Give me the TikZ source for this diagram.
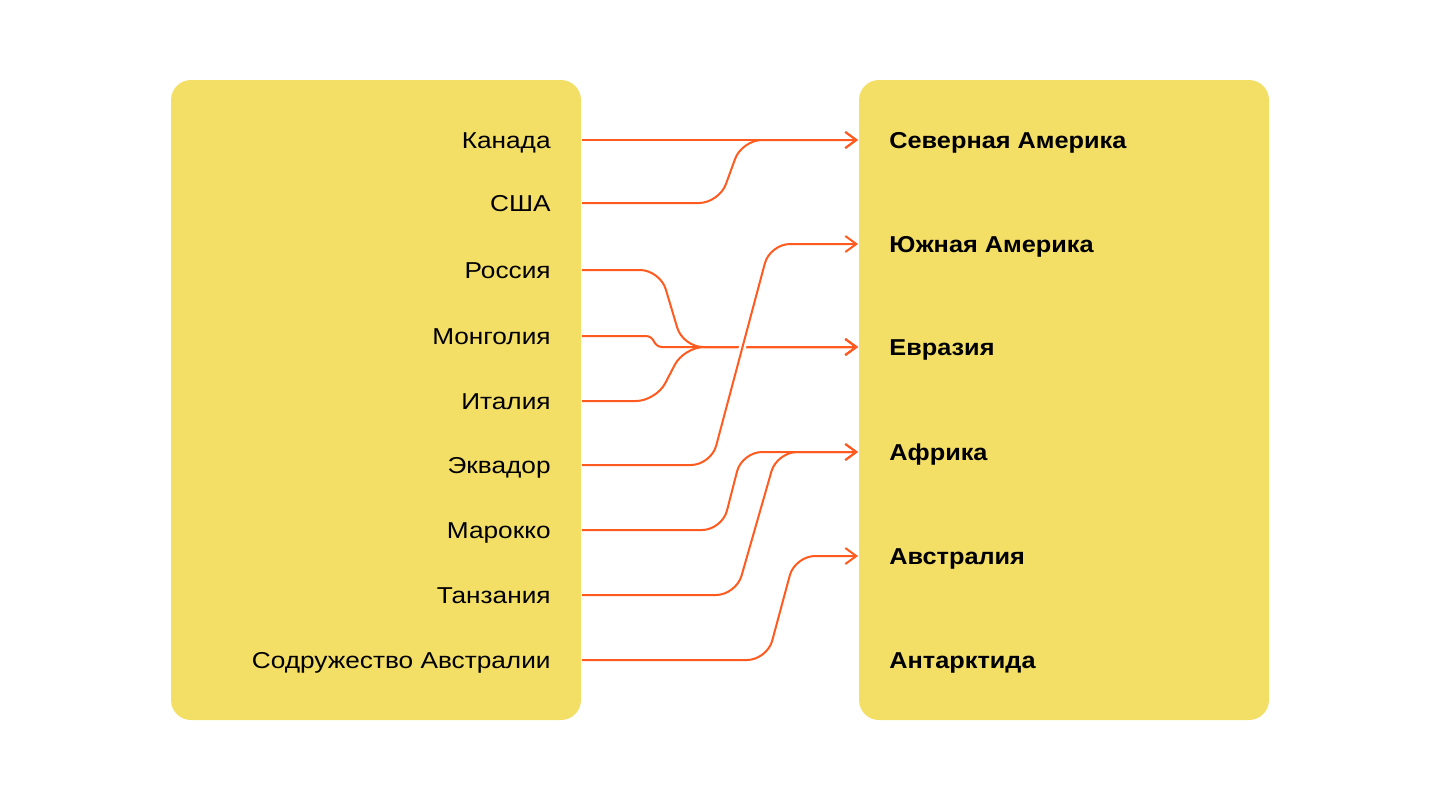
\documentclass[tikz,border=0pt]{standalone}
\usepackage{fontspec}
\setmainfont{Liberation Sans}[FakeStretch=1.14]
\newfontfamily\contfont{Liberation Sans}[FakeStretch=1.10]
\usetikzlibrary{arrows.meta}
\definecolor{boxyellow}{HTML}{F3DE66}
\definecolor{linkorange}{HTML}{FF5A1F}
\tikzset{
	country/.style={anchor=east, inner xsep=15.5pt, inner ysep=0pt, text height=8.3pt, text depth=0pt, font=\fontsize{11.5pt}{14pt}\selectfont},
	continent/.style={anchor=west, inner xsep=15.5pt, inner ysep=0pt, text height=8.3pt, text depth=0pt, font=\contfont\fontsize{11.5pt}{14pt}\selectfont\bfseries},
	link/.style={draw=linkorange, line width=1pt, -{Straight Barb[length=5.5pt,width=8pt]}},
}
\begin{document}
\begin{tikzpicture}[x=0.5pt, y=-0.5pt]
	\useasboundingbox (0,0) rectangle (1440,800);
	\fill[boxyellow, rounded corners=10pt] (171,80) rectangle (581,720);
	\fill[boxyellow, rounded corners=10pt] (859,80) rectangle (1269,720);
	\node[country] (kanada) at (582,140) {Канада};
	\node[country] (ssha) at (582,203) {США};
	\node[country] (rossiya) at (582,270) {Россия};
	\node[country] (mongoliya) at (582,336) {Монголия};
	\node[country] (italiya) at (582,401) {Италия};
	\node[country] (ekvador) at (582,465) {Эквадор};
	\node[country] (marokko) at (582,530) {Марокко};
	\node[country] (tanzaniya) at (582,595) {Танзания};
	\node[country] (sodr) at (582,660) {Содружество Австралии};
		\node[continent] (sevam) at (858,140) {Северная Америка};
		\node[continent] (yuzham) at (858,244) {Южная Америка};
		\node[continent] (evraziya) at (858,347) {Евразия};
		\node[continent] (afrika) at (858,452) {Африка};
		\node[continent] (avstr) at (858,556) {Австралия};
		\node[continent] (antarktida) at (858,660) {Антарктида};
	\draw[link] (kanada.east) -- (sevam.west);
	\draw[link, rounded corners=10pt] (ssha.east) -- (719,203) -- (742,140) -- (sevam.west);
	\draw[link, rounded corners=10pt] (rossiya.east) -- (660,270) -- (683,347) -- (evraziya.west);
	\draw[link, rounded corners=3pt] (mongoliya.east) -- (652,336) -- (656,347) -- (evraziya.west);
	\draw[link, rounded corners=10pt] (italiya.east) -- (656,401) -- (684,347) -- (evraziya.west);
	\draw[link, rounded corners=10pt, preaction={draw=white, line width=3.5pt, -}] (ekvador.east) -- (711,465) -- (770,244) -- (yuzham.west);
	\draw[link, rounded corners=10pt] (marokko.east) -- (722,530) -- (742,452) -- (afrika.west);
	\draw[link, rounded corners=10pt] (tanzaniya.east) -- (736,595) -- (777,452) -- (afrika.west);
	\draw[link, rounded corners=10pt] (sodr.east) -- (767,660) -- (795,556) -- (avstr.west);
\end{tikzpicture}
\end{document}
